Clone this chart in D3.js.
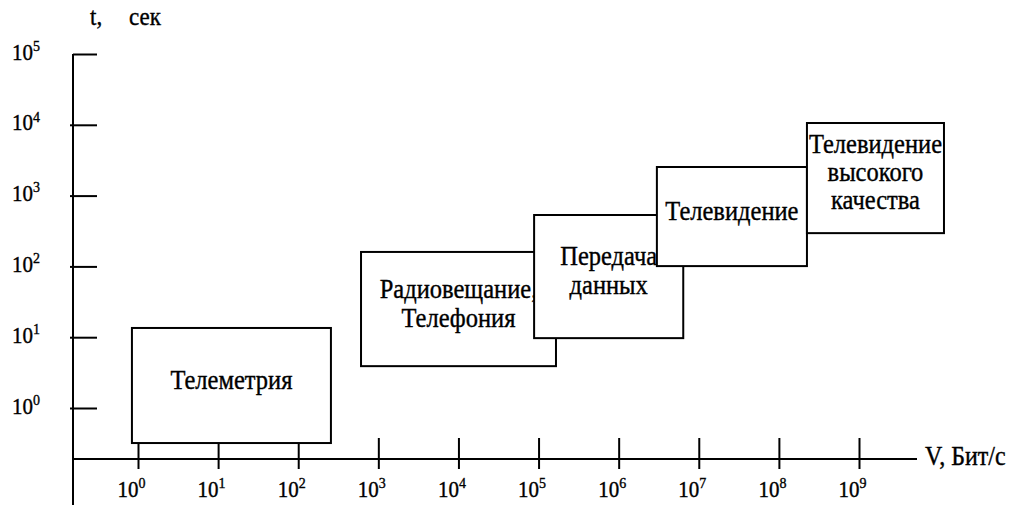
<!doctype html>
<html lang="ru">
<head>
<meta charset="utf-8">
<title>Скорость передачи и время</title>
<script src="https://d3js.org/d3.v7.min.js"></script>
<style>
  body { margin: 0; background: #fff; }
  svg { display: block; }
</style>
</head>
<body>
<div id="chart"></div>
<script>
// powers of ten on each axis
const xPowers = [0, 1, 2, 3, 4, 5, 6, 7, 8, 9];
const yPowers = [0, 1, 2, 3, 4, 5];

// services and their ranges
const serviceLabels = [
  ["Телеметрия"],
  ["Радиовещание,", "Телефония"],
  ["Передача", "данных"],
  ["Телевидение"],
  ["Телевидение", "высокого", "качества"]
];
const rateMin = [0.84, 608, 8.8e4, 3.0e6, 2.24e8];     // V, бит/с
const rateMax = [256, 1.65e5, 6.4e6, 2.24e8, 1.15e10];
const timeMin = [0.32, 3.9, 9.7, 101, 295];             // t, сек
const timeMax = [13.5, 160, 532, 2535, 10600];

const xTitle = "V, Бит/с";
const yTitle = ["t,", "сек"];

const width = 1012, height = 505;
const axisX = 73, axisY = 459;   // where the two axis lines sit
const stretch = 1.1;             // the original lettering is a bit tall

const x = d3.scaleLog().domain([1, 1e9]).range([138, 859]);
const y = d3.scaleLog().domain([1, 1e5]).range([408, 54]);

const svg = d3.select("#chart").append("svg")
    .attr("width", width)
    .attr("height", height)
    .attr("viewBox", [0, 0, width, height]);

// text helper: places a label and stretches it vertically a little
function label(g, tx, ty, size, anchor) {
  return g.append("text")
      .attr("transform", `translate(${tx},${ty}) scale(1,${stretch})`)
      .attr("style", "font-family:'Liberation Serif'")
      .attr("font-size", size)
      .attr("text-anchor", anchor || "start")
      .attr("fill", "#000")
      .attr("stroke", "#000")
      .attr("stroke-width", 0.35);
}
function power(t, p) {
  t.append("tspan").text("10");
  t.append("tspan").attr("font-size", 14).attr("dy", -8).text(p);
}

// x axis
svg.append("g")
    .attr("transform", `translate(0,${axisY})`)
    .call(d3.axisBottom(x).tickValues(xPowers.map(p => 10 ** p)).tickSize(10).tickFormat(""))
    .call(g => g.select(".domain").remove())
    .call(g => g.selectAll(".tick line")
        .attr("y1", -21)
        .attr("stroke", "#000")
        .attr("stroke-width", 2))
    .call(g => g.selectAll(".tick").each(function(d, i) {
      power(label(d3.select(this), -21, 38, 21), xPowers[i]);
    }));

// y axis
svg.append("g")
    .attr("transform", `translate(${axisX},0)`)
    .call(d3.axisRight(y).tickValues(yPowers.map(p => 10 ** p)).tickSize(24).tickFormat(""))
    .call(g => g.select(".domain").remove())
    .call(g => g.selectAll(".tick line")
        .attr("x1", d => d === 1e5 ? 0 : -3)
        .attr("stroke", "#000")
        .attr("stroke-width", 2))
    .call(g => g.selectAll(".tick").each(function(d, i) {
      power(label(d3.select(this), -61, 5, 21), yPowers[i]);
    }));

// axis lines
svg.append("line")
    .attr("x1", axisX - 1).attr("x2", 917)
    .attr("y1", axisY).attr("y2", axisY)
    .attr("stroke", "#000").attr("stroke-width", 2);
svg.append("line")
    .attr("x1", axisX).attr("x2", axisX)
    .attr("y1", y(1e5)).attr("y2", height)
    .attr("stroke", "#000").attr("stroke-width", 2);

// service boxes, drawn in order so later ones sit on top
const boxes = svg.append("g");
serviceLabels.forEach((lines, i) => {
  const x0 = x(rateMin[i]), x1 = x(rateMax[i]);
  const y0 = y(timeMax[i]), y1 = y(timeMin[i]);
  boxes.append("rect")
      .attr("x", x0).attr("y", y0)
      .attr("width", x1 - x0).attr("height", y1 - y0)
      .attr("fill", "#fff")
      .attr("stroke", "#000")
      .attr("stroke-width", 2);
  const lh = lines.length > 2 ? 28 : 29;
  const cx = (x0 + x1) / 2, cy = (y0 + y1) / 2;
  lines.forEach((s, j) => {
    label(boxes, cx, cy + 3 + (j - (lines.length - 1) / 2) * lh, 24.5, "middle").text(s);
  });
});

// axis titles
label(svg, 925, 465, 24).text(xTitle);
label(svg, 90, 25, 23).text(yTitle[0]);
label(svg, 129, 25, 23).text(yTitle[1]);
</script>
</body>
</html>
